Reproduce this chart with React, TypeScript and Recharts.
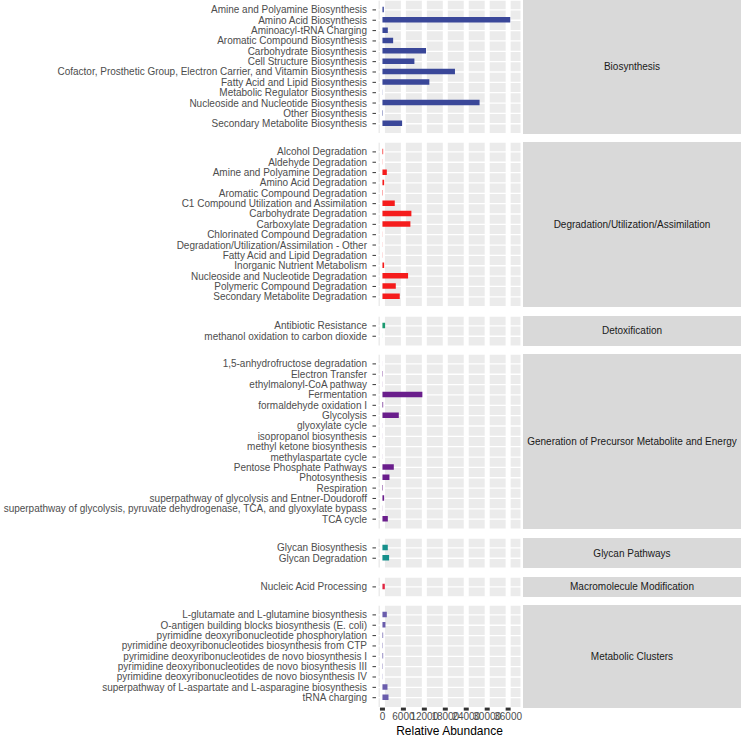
import { BarChart, Bar, XAxis, YAxis, CartesianGrid } from "recharts";

// layout (px)
const ROW = 10.35;
const PAD = 9.9;
const GAP = 8.6;
const Y_AXIS_W = 376;
const PANEL_RIGHT = 523;
const STRIP_RIGHT = 741;
const AXIS_H = 30;
const FONT = 10;

const xTicks = [0, 6000, 12000, 18000, 24000, 30000, 36000];

const facetNames = [
  "Biosynthesis",
  "Degradation/Utilization/Assimilation",
  "Detoxification",
  "Generation of Precursor Metabolite and Energy",
  "Glycan Pathways",
  "Macromolecule Modification",
  "Metabolic Clusters",
];

const facetColors = ["#3A4799", "#F51C1C", "#1B9A70", "#6A1E8C", "#17908C", "#E02440", "#6A5DAC"];

const bioLabels = [
  "Amine and Polyamine Biosynthesis",
  "Amino Acid Biosynthesis",
  "Aminoacyl-tRNA Charging",
  "Aromatic Compound Biosynthesis",
  "Carbohydrate Biosynthesis",
  "Cell Structure Biosynthesis",
  "Cofactor, Prosthetic Group, Electron Carrier, and Vitamin Biosynthesis",
  "Fatty Acid and Lipid Biosynthesis",
  "Metabolic Regulator Biosynthesis",
  "Nucleoside and Nucleotide Biosynthesis",
  "Other Biosynthesis",
  "Secondary Metabolite Biosynthesis",
];
const bioValues = [400, 36600, 1540, 3060, 12480, 9150, 20770, 13430, 40, 27820, 120, 5630];

const degLabels = [
  "Alcohol Degradation",
  "Aldehyde Degradation",
  "Amine and Polyamine Degradation",
  "Amino Acid Degradation",
  "Aromatic Compound Degradation",
  "C1 Compound Utilization and Assimilation",
  "Carbohydrate Degradation",
  "Carboxylate Degradation",
  "Chlorinated Compound Degradation",
  "Degradation/Utilization/Assimilation - Other",
  "Fatty Acid and Lipid Degradation",
  "Inorganic Nutrient Metabolism",
  "Nucleoside and Nucleotide Degradation",
  "Polymeric Compound Degradation",
  "Secondary Metabolite Degradation",
];
const degValues = [200, 40, 1250, 480, 100, 3530, 8290, 8000, 30, 30, 40, 480, 7340, 3820, 4960];

const detoxLabels = ["Antibiotic Resistance", "methanol oxidation to carbon dioxide"];
const detoxValues = [770, 10];

const genLabels = [
  "1,5-anhydrofructose degradation",
  "Electron Transfer",
  "ethylmalonyl-CoA pathway",
  "Fermentation",
  "formaldehyde oxidation I",
  "Glycolysis",
  "glyoxylate cycle",
  "isopropanol biosynthesis",
  "methyl ketone biosynthesis",
  "methylaspartate cycle",
  "Pentose Phosphate Pathways",
  "Photosynthesis",
  "Respiration",
  "superpathway of glycolysis and Entner-Doudoroff",
  "superpathway of glycolysis, pyruvate dehydrogenase, TCA, and glyoxylate bypass",
  "TCA cycle",
];
const genValues = [10, 100, 30, 11430, 200, 4680, 20, 20, 10, 20, 3250, 2000, 130, 480, 30, 1540];

const glycanLabels = ["Glycan Biosynthesis", "Glycan Degradation"];
const glycanValues = [1540, 1910];

const macroLabels = ["Nucleic Acid Processing"];
const macroValues = [680];

const clusterLabels = [
  "L-glutamate and L-glutamine biosynthesis",
  "O-antigen building blocks biosynthesis (E. coli)",
  "pyrimidine deoxyribonucleotide phosphorylation",
  "pyrimidine deoxyribonucleotides biosynthesis from CTP",
  "pyrimidine deoxyribonucleotides de novo biosynthesis I",
  "pyrimidine deoxyribonucleotides de novo biosynthesis III",
  "pyrimidine deoxyribonucleotides de novo biosynthesis IV",
  "superpathway of L-aspartate and L-asparagine biosynthesis",
  "tRNA charging",
];
const clusterValues = [1250, 860, 200, 100, 200, 100, 50, 1440, 1730];

const facetLabels = [bioLabels, degLabels, detoxLabels, genLabels, glycanLabels, macroLabels, clusterLabels];
const facetValues = [bioValues, degValues, detoxValues, genValues, glycanValues, macroValues, clusterValues];

const vLine = (p: any) => (
  <line key={p.key ?? `v${p.index}`} x1={p.x1} y1={p.y1} x2={p.x2} y2={p.y2} stroke="#FFFFFF" strokeWidth={5} />
);
const hLine = (p: any) => (
  <line key={p.key ?? `h${p.index}`} x1={p.x1} y1={p.y1} x2={p.x2} y2={p.y2} stroke="#FFFFFF" strokeWidth={1.3} />
);

// single-line category labels (default Text would wrap the long ones)
const YTick = (props: any) => (
  <text x={props.x} y={props.y} dy="0.35em" textAnchor="end" fontSize={FONT} fill="#4D4D4D">
    {props.payload.value}
  </text>
);

const XTick = (props: any) => (
  <text x={props.x} y={props.y} dy="0.71em" textAnchor="middle" fontSize={FONT} fill="#4D4D4D">
    {props.payload.value}
  </text>
);

export default function App() {
  let top = 0.1;
  const panels = facetNames.map((name, i) => {
    const n = facetLabels[i].length;
    const h = (n - 1) * ROW + 2 * PAD;
    const t = top;
    top += h + GAP;
    const data = facetLabels[i].map((label, j) => ({ label, value: facetValues[i][j] }));
    return { name, h, t, data, color: facetColors[i], last: i === facetNames.length - 1 };
  });

  return (
    <div
      style={{
        position: "absolute",
        left: 0,
        top: 0,
        width: 743,
        height: 739,
        background: "#FFFFFF",
        fontFamily: "'Liberation Sans', Arial, sans-serif",
      }}
    >
      {panels.map((p) => (
        <div key={p.name}>
          <div style={{ position: "absolute", left: 0, top: p.t }}>
            <BarChart
              width={PANEL_RIGHT}
              height={p.h + (p.last ? AXIS_H : 0)}
              data={p.data}
              layout="vertical"
              margin={{ top: 0, right: 0, bottom: 0, left: 0 }}
            >
              <CartesianGrid fill="#EBEBEB" fillOpacity={1} stroke="#FFFFFF" vertical={vLine} horizontal={hLine} />
              <XAxis
                type="number"
                domain={[-1850, 40250]}
                ticks={xTicks}
                allowDataOverflow
                hide={!p.last}
                height={AXIS_H}
                axisLine={false}
                tickSize={3}
                tickMargin={2.5}
                tickLine={{ stroke: "#333333", strokeWidth: 5 }}
                tick={XTick}
                interval={0}
                label={
                  p.last
                    ? { value: "Relative Abundance", position: "insideBottom", offset: 3, fontSize: 12, fill: "#000000" }
                    : undefined
                }
              />
              <YAxis
                type="category"
                dataKey="label"
                width={Y_AXIS_W}
                padding={{ top: PAD - ROW / 2, bottom: PAD - ROW / 2 }}
                axisLine={false}
                tickSize={3.5}
                tickMargin={5.5}
                tickLine={{ stroke: "#333333", strokeWidth: 1 }}
                tick={YTick}
                interval={0}
              />
              <Bar dataKey="value" fill={p.color} barSize={5.5} isAnimationActive={false} />
            </BarChart>
          </div>
          <div
            style={{
              position: "absolute",
              left: PANEL_RIGHT,
              top: p.t,
              width: STRIP_RIGHT - PANEL_RIGHT,
              height: p.h,
              background: "#D9D9D9",
              color: "#1A1A1A",
              fontSize: FONT,
              display: "flex",
              alignItems: "center",
              justifyContent: "center",
              textAlign: "center",
            }}
          >
            {p.name}
          </div>
        </div>
      ))}
    </div>
  );
}
